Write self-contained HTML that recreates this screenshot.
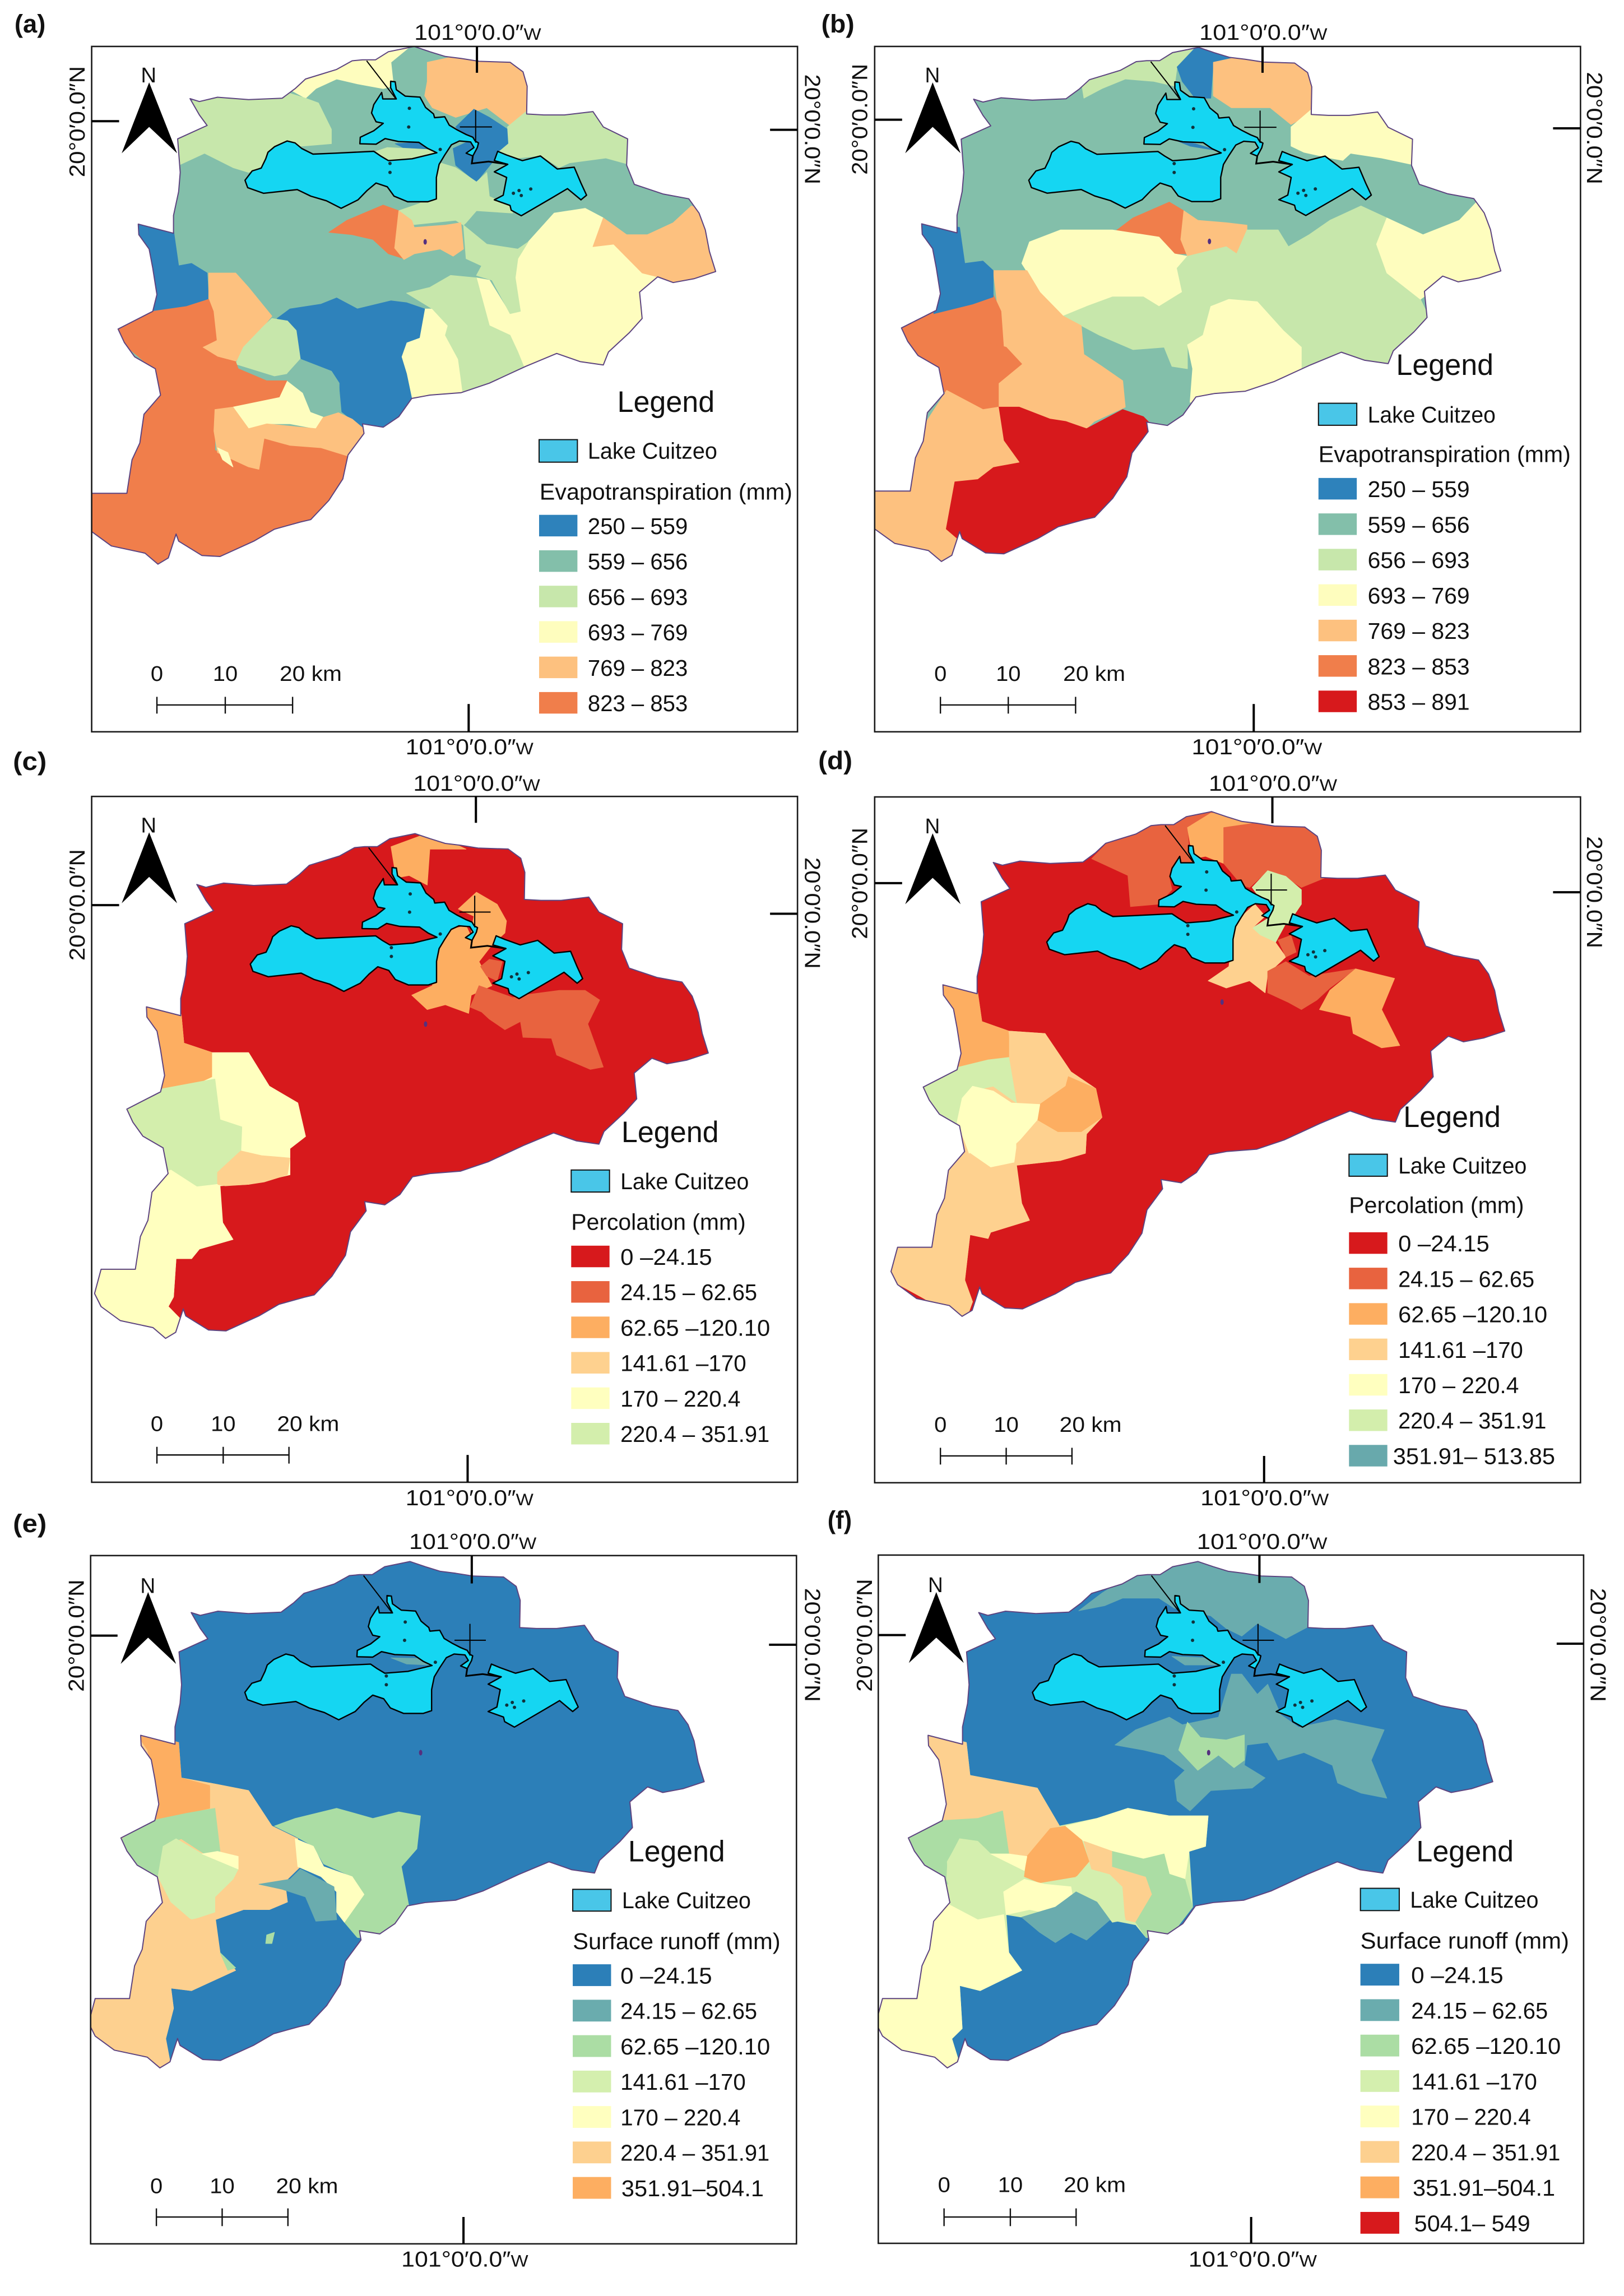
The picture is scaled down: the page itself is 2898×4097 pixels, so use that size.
<!DOCTYPE html>
<html lang="en">
<head>
<meta charset="utf-8">
<title>Lake Cuitzeo basin water balance maps</title>
<style>
html,body{margin:0;padding:0;background:#fff;width:2898px;height:4097px;overflow:hidden}
svg{display:block}
text{font-family:"Liberation Sans",sans-serif;fill:#111}
</style>
</head>
<body>
<svg id="figure" xmlns="http://www.w3.org/2000/svg" width="2898" height="4097" viewBox="0 0 2898 4097"></svg>
<script>
/* ---------- legend data ---------- */
const evapLabels = ["250 – 559","559 – 656","656 – 693","693 – 769","769 – 823","823 – 853","853 – 891"];
const evapBreaks = [559,656,693,769,823,853,891];
const evapColors = ["#2e82bb","#83bfaa","#c7e7ab","#fefdbe","#fdc17f","#f07e4b","#d7191c"];
const percLabels = ["0 –24.15","24.15 – 62.65","62.65 –120.10","141.61 –170","170 – 220.4","220.4 – 351.91","351.91– 513.85"];
const percBreaks = [24.15,62.65,120.1,170,220.4,351.91,513.85];
const percColors = ["#d7191c","#e8633f","#fdae61","#fed18f","#ffffbf","#d3eeac","#68a9ac"];
const runoffLabels = ["0 –24.15","24.15 – 62.65","62.65 –120.10","141.61 –170","170 – 220.4","220.4 – 351.91","351.91–504.1","504.1– 549"];
const runoffBreaks = [24.15,62.65,120.1,170,220.4,351.91,504.1,549];
const runoffColors = ["#2c7fb8","#6aacae","#abdda4","#d4efae","#ffffbf","#fdd08f","#fdae61","#d7191c"];

/* ---------- per-panel class values (mm, one per region, drawn in order) ---------- */
const panelABase = 600;
const panelAValues = [730,680,800,400,680,680,680,840,800,730,800,680,730,400,400,800,680,840,730,800,600,730,680,400];
const panelBBase = 600;
const panelBValues = [680,400,800,730,840,800,730,680,730,730,800,840,400,870,800,400];
const panelCBase = 12;
const panelCValues = [195,90,90,90,40,40,90,195,290,155,195];
const panelDBase = 12;
const panelDValues = [155,40,40,90,40,290,290,155,40,40,90,90,155,90,290,195,155,155];
const panelEBase = 12;
const panelEValues = [290,430,290,90,155,195,90,195,40,290,90,90,40];
const panelFBase = 12;
const panelFValues = [155,40,40,90,290,430,195,290,90,90,155,195,195,155,40,195,40];

/* ---------- map geometry (basin, lake, dissolved regions) ---------- */
const basinOutline = "367,206 385,212 420,203 480,208 545,205 570,185 590,165 620,155 650,145 680,127 700,125 725,125 750,108 800,97 830,108 860,118 890,122 925,128 985,130 1010,150 1018,180 1017,238 1050,240 1090,240 1145,233 1165,265 1212,290 1210,345 1225,385 1280,405 1330,415 1350,445 1362,480 1370,525 1382,567 1340,582 1300,590 1270,578 1235,610 1240,665 1215,695 1175,735 1165,762 1120,755 1075,738 1015,765 985,780 945,800 890,820 830,825 795,832 770,870 740,892 700,885 703,905 672,950 662,1000 635,1045 600,1085 580,1090 530,1105 490,1130 425,1162 390,1160 345,1130 340,1115 325,1165 305,1178 280,1155 215,1140 177,1110 164,1082 177,1030 245,1030 255,960 270,925 278,865 310,825 300,770 260,745 240,715 228,687 295,650 303,615 295,560 288,520 268,490 267,468 335,487 335,450 345,400 348,360 343,290 400,262 385,240";

/* lake traced at high magnification (trace units converted by traceToMap) */
const lakeWestNorthTrace = "18,575 50,525 90,510 110,460 120,425 150,395 205,365 240,375 270,405 320,435 420,430 590,420 620,445 655,470 760,460 870,428 830,405 790,372 700,368 640,352 600,382 528,380 530,345 590,310 632,270 600,262 580,215 590,170 625,105 630,140 690,140 665,80 665,45 685,48 690,90 730,125 795,130 820,185 855,220 860,240 905,235 925,280 960,305 1000,330 1030,345 1040,365 1055,375 1050,400 1030,445 1000,430 1035,400 1020,370 970,365 935,385 905,440 880,490 868,560 868,675 830,690 740,690 680,660 650,610 600,590 560,630 520,680 445,725 380,685 310,660 250,625 100,645 30,615";
const lakeEastTrace = "1140,420 1180,440 1250,470 1330,445 1405,515 1480,505 1510,590 1535,655 1510,680 1450,620 1380,670 1245,765 1200,735 1195,710 1125,680 1165,655 1180,560 1125,530 1185,490 1125,470";
const lakeChannelTrace = "1030,445 1025,485 1100,475 1185,490";
const lakeIsletTrace = ["1210,645","1235,630","1245,657","1287,622","662,533","662,485","748,190","745,290","885,410"];
function traceToMap(s) {
  return s.split(' ').map(function (q) {
    const c = q.split(',');
    return (465.3 + (+c[0]) * 0.4348).toFixed(1) + ',' + (152.1 + (+c[1]) * 0.39).toFixed(1);
  }).join(' ');
}
const lakeWestNorth = traceToMap(lakeWestNorthTrace);
const lakeEast = traceToMap(lakeEastTrace);
const lakeChannel = traceToMap(lakeChannelTrace);
const lakeIslets = lakeIsletTrace.map(traceToMap);

const panelAShapes = [
"590,205 610,185 650,165 690,175 740,185 760,180 755,130 800,90 730,100 700,115 640,140 590,160 565,190",
"335,350 395,320 450,350 480,360 510,345 530,310 640,300 640,270 615,215 590,205 560,195 400,180 335,250",
"825,130 890,115 985,120 1025,150 1025,238 985,262 940,225 880,245 835,225 820,200 825,170",
"880,265 915,228 945,245 980,270 982,300 950,340 920,380 880,345 875,310 905,295",
"980,265 1017,232 1145,225 1220,290 1220,345 1170,330 1100,340 1080,350 1045,325 1000,330 960,320 982,300",
"726,316 748,308 826,312 844,318 796,332 750,335",
"838,400 850,340 880,350 920,380 940,360 945,410 985,430 990,445 920,440 900,465 895,470 880,460 790,470 770,440 810,425",
"635,485 670,460 740,428 770,440 765,520 780,540 750,530 720,500 680,490",
"770,440 795,460 800,475 860,470 890,465 895,520 875,535 850,520 800,530 780,542 762,518",
"1000,540 1020,505 1070,445 1130,435 1165,455 1145,515 1185,510 1240,570 1270,578 1235,620 1240,670 1215,700 1175,745 1165,775 1075,750 1015,775 1000,735 985,700 945,680 935,640 920,580 945,585 985,655 1005,650 995,580",
"1145,515 1165,455 1210,490 1250,490 1300,465 1335,430 1360,440 1375,480 1395,567 1300,600 1270,578 1240,570 1185,510",
"895,470 940,510 1000,520 1020,505 1000,540 995,580 1005,650 985,655 950,585 920,575 930,555 900,540",
"820,645 835,645 865,680 860,700 885,750 895,830 795,845 785,780 775,745 785,715 810,705",
"535,665 560,645 620,635 650,622 690,645 755,628 785,632 820,645 810,705 785,715 775,745 785,780 795,832 770,880 740,900 695,890 660,860 655,800 640,775 580,750 570,690",
"255,460 335,480 345,555 370,550 400,570 403,625 360,640 285,660 295,610 285,560 275,520",
"403,570 455,570 480,600 525,660 510,680 455,755 420,745 390,725 418,710 412,650 403,625",
"525,665 555,670 572,690 580,750 555,780 530,785 455,760 470,725 510,680",
"403,625 360,640 295,650 220,687 235,715 295,770 305,825 270,865 262,925 245,960 237,1020 130,1020 130,1110 205,1150 300,1190 330,1175 345,1140 390,1170 425,1172 490,1140 530,1115 580,1100 610,1095 645,1055 672,1000 682,950 670,945 620,935 560,930 510,915 500,980 480,975 415,940 415,855 450,850 540,830 555,795 515,795 460,770 455,755 420,745 390,725 418,710 412,650",
"450,850 540,830 555,795 585,820 600,860 625,870 610,895 560,885 515,885 480,895",
"415,855 450,850 480,895 515,885 610,895 625,870 650,860 680,875 713,905 680,955 620,935 560,930 510,915 500,980 480,975 420,945 413,900",
"555,780 580,750 640,775 655,800 655,860 625,870 600,860 585,820 555,795",
"420,935 440,945 450,975 430,960",
"785,612 830,600 870,575 920,580 935,640 945,680 985,700 1000,735 1015,775 985,790 945,810 895,830 885,750 860,700 865,680 835,645",
"763,300 809,297 826,311 778,308"
];
const panelBShapes = [
"525,205 560,185 605,165 660,170 700,180 705,140 750,90 700,90 660,115 630,115 570,145 520,170",
"705,140 740,100 800,95 840,125 775,130 770,205 740,205 715,170",
"775,130 840,115 930,115 975,155 975,230 925,260 885,225 840,225 810,225 775,200",
"925,265 965,228 1015,232 1090,224 1170,285 1165,345 1100,330 1040,320 1025,335 1000,330 950,318 925,305",
"583,485 620,455 690,422 718,440 712,500 725,530 700,530 670,495",
"718,440 745,460 800,465 840,470 840,515 820,530 800,515 750,530 725,535 712,500",
"405,550 420,505 480,480 580,480 670,495 700,530 725,535 705,560 715,610 670,640 640,620 580,620 530,640 485,660 440,610",
"485,660 530,640 580,620 640,620 670,640 715,610 705,560 725,535 800,515 820,530 840,480 900,480 920,515 960,490 1000,460 1060,430 1110,455 1090,510 1110,570 1175,625 1195,670 1125,770 1075,765 1025,745 945,780 945,725 910,690 860,630 805,625 770,640 755,700 725,720 725,770 695,765 680,725 620,730 555,700 520,680",
"1090,510 1110,455 1180,490 1250,460 1285,420 1310,440 1320,510 1340,565 1280,600 1220,590 1175,625 1110,570",
"725,720 755,700 770,640 805,625 860,630 910,690 945,725 945,780 905,800 840,825 730,840 735,770",
"350,565 415,565 440,610 485,660 520,680 525,740 560,765 600,795 605,850 545,880 530,895 490,880 460,875 400,850 360,850 360,790 405,760 375,725 340,715 365,700",
"350,615 365,650 370,725 340,715 375,725 405,760 360,800 360,850 330,855 250,815 235,760 195,740 165,685 245,630",
"200,455 285,475 295,550 330,545 350,565 350,620 310,635 235,655 240,600 225,530",
"360,850 400,850 460,875 490,880 530,895 600,855 640,870 672,905 640,950 620,1040 565,1115 525,1125 430,1140 370,1190 320,1180 270,1150 258,1105 275,1005 320,1000 350,975 400,965 370,920",
"260,815 330,855 360,850 370,920 400,965 350,975 320,1000 275,1005 258,1105 285,1130 265,1185 90,1110 90,1020 185,1020 200,950 215,890",
"700,292 740,300 785,315 730,305"
];
const panelCShapes = [
"270,520 350,550 355,610 410,630 480,630 520,700 575,735 590,805 560,830 560,885 480,905 425,908 430,985 450,1020 385,1040 370,1060 340,1060 335,1140 325,1160 352,1190 335,1240 160,1140 225,750",
"755,200 830,170 900,205 830,205 825,280 790,260 765,265",
"885,330 920,295 960,320 978,355 975,380 950,405 915,400 910,375 915,345",
"795,510 835,490 840,420 860,375 900,365 915,400 950,405 925,440 950,490 910,510 905,548 860,530 825,540",
"908,535 925,490 990,515 1010,510 1080,500 1130,500 1158,520 1135,570 1165,660 1140,665 1075,635 1065,600 1010,598 1005,565 975,582 945,560 930,545",
"928,450 945,435 970,440 960,480 940,470",
"270,520 350,550 355,610 410,630 410,680 380,695 300,720 310,640 295,580 270,555",
"410,630 480,630 520,700 575,735 590,805 560,830 505,840 470,840 465,785 420,770 410,680",
"300,708 415,685 425,770 467,785 465,840 425,880 420,905 380,910 320,875 305,830 235,760 235,745",
"420,880 465,835 505,845 560,850 555,885 510,900 480,905 435,908 420,905",
"330,875 380,910 420,905 430,985 450,1020 385,1040 370,1060 340,1060 335,1140 325,1160 352,1190 335,1240 290,1225 190,1160 173,1130 185,1075 250,1065 260,1010 275,960 280,900"
];
const panelDShapes = [
"240,480 320,505 328,565 380,585 450,590 500,670 548,705 560,765 530,800 528,840 480,855 395,865 405,945 420,980 345,1005 340,1018 305,1010 295,1105 310,1150 295,1195 135,1090 195,700",
"540,225 590,170 660,140 700,145 725,160 728,205 735,235 690,265 695,290 668,320 615,325 610,260",
"690,140 765,115 790,125 730,155 725,160",
"725,160 770,130 840,125 870,155 795,160 795,235 760,220 735,225",
"795,160 860,150 950,145 990,180 990,265 945,285 910,260 880,250 845,285 830,280 795,235",
"850,285 880,250 915,262 945,290 945,320 920,360 885,360 880,345 885,320 860,300",
"850,370 880,350 915,360 895,400 865,385",
"765,480 805,450 815,370 835,340 855,320 875,345 850,370 865,385 895,400 915,430 880,465 875,505 845,480 800,495",
"880,460 915,440 960,470 1050,455 1000,495 975,520 945,540 920,525 880,505",
"900,395 925,385 935,420 915,430",
"980,540 1000,500 1050,455 1125,475 1100,540 1135,615 1100,620 1045,590 1040,555",
"240,480 320,505 328,565 380,585 380,640 340,645 265,675 280,600 260,520",
"380,585 450,590 500,670 490,700 440,738 400,735 390,680",
"495,680 548,705 560,765 520,795 475,795 435,770 440,738 490,700",
"265,665 340,645 380,640 395,735 350,700 310,710 290,780 235,770 205,720 203,700",
"310,700 350,710 385,735 440,738 435,770 395,820 390,860 345,870 305,845 295,815 280,775 290,725",
"395,820 430,785 475,800 530,800 528,840 480,855 395,865",
"305,840 345,870 390,860 405,945 420,980 345,1005 340,1018 305,1010 295,1105 310,1150 295,1190 160,1110 145,1085 155,1030 220,1015 230,960 250,870"
];
const panelEShapes = [
"255,450 345,475 350,545 405,555 480,570 525,640 575,665 580,720 550,750 555,790 520,805 470,805 415,825 425,890 455,925 370,965 330,960 335,1000 320,1060 330,1115 300,1130 160,1050 225,670",
"262,455 345,475 350,545 405,560 405,605 360,615 290,640 300,570 285,490",
"405,555 480,570 525,640 575,665 580,720 550,750 555,790 520,805 470,805 415,825 415,775 450,745 460,700 425,690 415,610",
"290,630 360,615 415,605 425,690 395,695 350,665 315,680 305,740 250,720 228,670",
"315,680 340,665 390,695 460,725 450,745 415,780 415,810 370,825 330,790 305,740",
"390,695 420,690 460,700 460,725",
"530,640 570,625 650,605 720,625 770,612 812,620 805,685 775,720 790,800 735,865 690,860 665,830 700,775 680,740 625,715 605,680 570,660",
"570,665 605,680 625,720 680,740 703,775 665,830 650,810 650,770 620,740 575,720",
"500,755 560,745 580,725 645,760 650,825 610,828 590,780 545,765",
"300,790 370,825 415,815 425,890 455,925 370,965 330,960 335,1000 320,1060 330,1115 300,1130 165,1050 175,975 250,960 270,880",
"515,855 530,850 525,872 513,872",
"425,890 455,920 440,925",
"755,308 810,309 830,322 785,320"
];
const panelFShapes = [
"205,450 298,475 305,540 435,565 478,640 550,625 610,605 690,620 765,620 760,680 728,690 735,800 690,860 645,860 625,835 575,825 530,865 500,850 470,870 440,850 405,820 375,815 380,890 405,925 325,965 285,955 290,1040 270,1060 285,1110 258,1130 115,1050 175,665",
"515,215 560,180 630,135 670,135 740,108 830,115 955,140 970,180 970,240 915,270 860,240 830,265 800,250 770,225 700,210 670,190 600,190 565,205",
"585,480 625,450 690,425 715,440 785,425 810,340 830,340 860,380 880,360 905,420 940,445 1010,430 1105,450 1080,510 1110,585 1060,575 1015,555 1005,520 950,495 900,510 880,475 840,480 835,520 875,545 850,565 770,570 730,610 705,590 700,550 720,530 680,500 640,490",
"708,490 725,435 750,465 800,470 835,460 835,510 815,525 785,500 745,530",
"215,455 298,475 305,540 435,565 478,640 460,645 415,700 380,695 368,610 320,625 240,640 255,590 240,510",
"460,645 490,640 520,665 535,710 510,740 440,752 410,740 415,700",
"490,640 550,625 610,605 690,620 765,620 760,680 728,690 720,745 690,735 680,695 640,705 580,690 525,670",
"525,670 580,690 580,720 645,740 657,775 625,830 605,825 600,760 575,735 540,725",
"580,690 640,705 680,695 690,735 720,745 735,800 690,860 645,860 625,830 657,775 645,740 580,720",
"240,630 320,625 368,610 380,695 345,695 320,670 285,665 260,710 262,755 195,710 180,665",
"262,710 285,665 320,670 345,695 410,742 375,770 370,810 320,825 280,795 260,745",
"345,695 380,695 415,700 410,728",
"370,770 410,745 450,755 500,760 505,790 470,815 420,805 375,815",
"510,740 555,730 590,760 605,825 580,830 550,790 520,770 505,770",
"405,820 470,800 510,770 550,790 575,825 530,865 500,850 470,870 440,850",
"255,790 320,825 370,815 380,890 405,925 325,965 285,955 290,1040 270,1060 285,1110 258,1130 120,1050 128,975 205,960 215,900 225,820",
"695,305 760,308 785,322 720,322"
];

/* ---------- panel layout ---------- */
const SX = 1449 / 1568;
const panels = [
 {id:'a',tag:'(a)',tagX:[28,88],tagY:68,zx:0,zy:0,ky:1340/1568,sx:1,k:0,sy:1,m:0,frame:[177,1540,97,1528],
  top:[921,800,1045,83],bottom:[905,783,1030,1470,1575],left:[253,230,150,138,370],right:[271,1487,1568,155,385],
  arrow:[288,172,235,342,265,320],north:[272,302,172],bar:[303,435,565,1472,1455,1490,1422,540,660],
  legend:[1192,1380,860],lakeKey:[1041,1115,918,965,1135,1385,958],field:['Evapotranspiration (mm)',1042,1530,1043],rows:[1041,1115,1075,45,74,40],
  labels:evapLabels,colors:evapColors,breaks:evapBreaks,count:6,starts:[1135,1135,1135,1135,1135,1135],ends:[1328,1328,1328,1328,1328,1328],
  base:panelABase,values:panelAValues,shapes:panelAShapes},
 {id:'b',tag:'(b)',tagX:[18,82],tagY:68,zx:1449,zy:0,ky:1340/1568,sx:1.003,k:-56,sy:.993,m:2.6,frame:[121,1484,97,1528],
  top:[870,748,995,83],bottom:[853,733,985,1470,1575],left:[250,174,93,133,365],right:[268,1431,1510,150,385],
  arrow:[233,172,180,287,265,320],north:[218,247,172],bar:[248,379,509,1472,1455,1490,1422,485,605],
  legend:[1128,1316,783],lakeKey:[978,1052,842,888,1073,1320,882],field:['Evapotranspiration (mm)',978,1465,965],rows:[978,1052,998,45,74,40],
  labels:evapLabels,colors:evapColors,breaks:evapBreaks,count:7,starts:[1073,1073,1073,1073,1073,1073,1073],ends:[1270,1270,1270,1270,1270,1270,1270],
  base:panelBBase,values:panelBValues,shapes:panelBShapes},
 {id:'c',tag:'(c)',tagX:[25,90],tagY:40,zx:0,zy:1340,ky:1340/1568,sx:.973,k:23,sy:.975,m:78,frame:[177,1540,95,1527],
  top:[919,798,1043,83],bottom:[903,783,1030,1470,1575],left:[322,230,150,205,438],right:[340,1487,1568,222,455],
  arrow:[288,170,235,342,263,318],north:[272,302,170],bar:[303,431,558,1470,1453,1488,1420,535,655],
  legend:[1200,1388,817],lakeKey:[1103,1177,875,921,1198,1446,915],field:['Percolation (mm)',1103,1440,1000],rows:[1103,1177,1033,45,74,40],
  labels:percLabels,colors:percColors,breaks:percBreaks,count:6,starts:[1198,1198,1198,1198,1198,1198],ends:[1375,1462,1487,1441,1430,1486],
  base:panelCBase,values:panelCValues,shapes:panelCShapes},
 {id:'d',tag:'(d)',tagX:[12,78],tagY:38,zx:1449,zy:1340,ky:1340/1568,sx:.973,k:-7,sy:.975,m:32,frame:[121,1484,96,1528],
  top:[889,766,1014,83],bottom:[873,750,998,1472,1575],left:[276,174,93,160,393],right:[295,1431,1510,178,412],
  arrow:[233,172,180,287,265,320],north:[218,247,172],bar:[248,375,502,1472,1455,1490,1422,478,598],
  legend:[1142,1330,785],lakeKey:[1037,1111,842,888,1132,1380,882],field:['Percolation (mm)',1037,1375,965],rows:[1037,1111,1005,45,74,40],
  labels:percLabels,colors:percColors,breaks:percBreaks,count:7,starts:[1132,1132,1132,1132,1132,1132,1122],ends:[1308,1395,1420,1373,1365,1418,1435],
  base:panelDBase,values:panelDValues,shapes:panelDShapes},
 {id:'e',tag:'(e)',tagX:[25,90],tagY:60,zx:0,zy:2680,ky:1417/1568,sx:.976,k:11,sy:.925,m:28,frame:[175,1538,106,1465],
  top:[911,790,1036,93],bottom:[895,775,1020,1412,1510],left:[264,227,148,153,375],right:[282,1485,1568,170,395],
  arrow:[286,178,233,340,268,320],north:[271,300,180],bar:[302,429,556,1412,1395,1430,1365,533,653],
  legend:[1213,1400,710],lakeKey:[1106,1180,765,808,1201,1450,802],field:['Surface runoff (mm)',1106,1507,883],rows:[1106,1180,913,43,70,38],
  labels:runoffLabels,colors:runoffColors,breaks:runoffBreaks,count:7,starts:[1198,1198,1198,1198,1198,1198,1200],ends:[1375,1462,1487,1440,1430,1486,1475],
  base:panelEBase,values:panelEValues,shapes:panelEShapes},
 {id:'f',tag:'(f)',tagX:[30,77],tagY:53,zx:1449,zy:2680,ky:1417/1568,sx:.978,k:-37,sy:.925,m:28,frame:[128,1490,105,1464],
  top:[864,743,995,93],bottom:[848,727,975,1412,1510],left:[263,181,102,152,375],right:[280,1438,1517,170,395],
  arrow:[240,178,187,293,268,318],north:[224,253,178],bar:[255,383,510,1412,1395,1430,1363,486,606],
  legend:[1167,1355,710],lakeKey:[1059,1134,763,807,1155,1403,801],field:['Surface runoff (mm)',1059,1462,882],rows:[1059,1134,912,43,70,38],
  labels:runoffLabels,colors:runoffColors,breaks:runoffBreaks,count:8,starts:[1157,1157,1157,1157,1157,1157,1160,1163],ends:[1335,1421,1446,1400,1388,1445,1435,1387],
  base:panelFBase,values:panelFValues,shapes:panelFShapes}
];

/* ---------- helpers ---------- */
const NS = 'http://www.w3.org/2000/svg';
const root = document.getElementById('figure');
function mk(tag, parent, attrs) {
  const el = document.createElementNS(NS, tag);
  for (const key in attrs) el.setAttribute(key, attrs[key]);
  parent.appendChild(el);
  return el;
}
function classIndex(value, breaks) {
  for (let i = 0; i < breaks.length; i++) if (value <= breaks[i]) return i;
  return breaks.length - 1;
}

panels.forEach(function (p) {
  const px = function (d) { return p.zx + d * SX; };
  const py = function (d) { return p.zy + d * p.ky; };
  const lenX = function (d) { return d * SX; };
  const lenY = function (d) { return d * p.ky; };
  /* own-panel points */
  const ownPts = function (s) {
    return s.split(' ').map(function (q) { const c = q.split(','); return px(+c[0]).toFixed(1) + ',' + py(+c[1]).toFixed(1); }).join(' ');
  };
  /* shared map-space points */
  const ax = function (x) { return px(p.sx * x + p.k); };
  const ay = function (y) { return py(p.sy * y + p.m); };
  const sharedPts = function (s) {
    return s.split(' ').map(function (q) { const c = q.split(','); return ax(+c[0]).toFixed(1) + ',' + ay(+c[1]).toFixed(1); }).join(' ');
  };
  const label = function (parent, str, x1, x2, base, size, extra) {
    const t = mk('text', parent, Object.assign({x: px(x1).toFixed(1), y: py(base).toFixed(1), 'font-size': size, textLength: lenX(x2 - x1).toFixed(1), lengthAdjust: 'spacingAndGlyphs'}, extra || {}));
    t.textContent = str;
    return t;
  };

  const g = mk('g', root, {});
  
  

  const tag = label(g, p.tag, p.tagX[0], p.tagX[1], p.tagY, 45, {'font-weight': 'bold'});
  
  

  const fx1 = px(p.frame[0]), fx2 = px(p.frame[1]), fy1 = py(p.frame[2]), fy2 = py(p.frame[3]);
  const defs = mk('defs', g, {});
  const cf = mk('clipPath', defs, {id: 'frame-clip-' + p.id});
  mk('rect', cf, {x: fx1, y: fy1, width: fx2 - fx1, height: fy2 - fy1});
  const cb = mk('clipPath', defs, {id: 'basin-clip-' + p.id});
  mk('polygon', cb, {points: sharedPts(basinOutline)});

  const frame = mk('rect', g, {x: fx1, y: fy1, width: fx2 - fx1, height: fy2 - fy1, fill: '#fff'});
  
  

  const inFrame = mk('g', g, {'clip-path': 'url(#frame-clip-' + p.id + ')'});
  const inBasin = mk('g', inFrame, {'clip-path': 'url(#basin-clip-' + p.id + ')'});

  const basin = mk('polygon', inBasin, {points: sharedPts(basinOutline), fill: p.colors[classIndex(p.base, p.breaks)]});
  
  

  p.shapes.forEach(function (shape, i) {
    const color = p.colors[classIndex(p.values[i], p.breaks)];
    const region = mk('polygon', inBasin, {points: ownPts(shape), fill: color, stroke: color, 'stroke-width': 1, 'stroke-linejoin': 'round'});
    
    
  });

  const outline = mk('polygon', inFrame, {points: sharedPts(basinOutline), fill: 'none', stroke: '#5d4480', 'stroke-width': 2, 'stroke-linejoin': 'round'});
  
  

  /* lake */
  const lake1 = mk('polygon', g, {points: sharedPts(lakeWestNorth), fill: '#15d6f2', stroke: '#000', 'stroke-width': 2.4, 'stroke-linejoin': 'round'});
  
  
  const lake2 = mk('polygon', g, {points: sharedPts(lakeEast), fill: '#15d6f2', stroke: '#000', 'stroke-width': 2.4, 'stroke-linejoin': 'round'});
  
  
  const channel = mk('polyline', g, {points: sharedPts(lakeChannel), fill: 'none', stroke: '#000', 'stroke-width': 3});
  
  
  lakeIslets.forEach(function (q) {
    const c = q.split(',');
    const dot = mk('circle', g, {cx: ax(+c[0]), cy: ay(+c[1]), r: 3, fill: '#10323c'});
    
    
  });
  const spot = mk('ellipse', g, {cx: ax(821), cy: ay(505), rx: 3, ry: 5, fill: '#55307f'});
  
  

  const leader = mk('line', g, {x1: ax(708), y1: ay(127), x2: ax(765), y2: ay(207), stroke: '#000', 'stroke-width': 2});
  
  
  const crossH = mk('line', g, {x1: ax(888), y1: ay(265), x2: ax(950), y2: ay(265), stroke: '#000', 'stroke-width': 2});
  
  
  const crossV = mk('line', g, {x1: ax(918.5), y1: ay(230), x2: ax(918.5), y2: ay(298), stroke: '#000', 'stroke-width': 2});
  
  

  /* frame border */
  const border = mk('rect', g, {x: fx1, y: fy1, width: fx2 - fx1, height: fy2 - fy1, fill: 'none', stroke: '#1a1a1a', 'stroke-width': 2.6});
  
  

  /* graticule ticks and labels */
  const tick = function (name, x1, y1, x2, y2) {
    const t = mk('line', g, {x1: x1, y1: y1, x2: x2, y2: y2, stroke: '#000', 'stroke-width': 4});
    
    
  };
  tick('top-tick', px(p.top[0]), fy1, px(p.top[0]), py(p.frame[2] + 55));
  tick('bottom-tick', px(p.bottom[0]), py(p.bottom[3]), px(p.bottom[0]), fy2);
  tick('left-tick', fx1, py(p.left[0]), px(p.left[1]), py(p.left[0]));
  tick('right-tick', px(p.right[1]), py(p.right[0]), fx2, py(p.right[0]));

  const topLab = label(g, '101°0′0.0″', p.top[1], p.top[2], p.top[3], 39);
  
  
  mk('tspan', topLab, {'font-size': 30}).textContent = 'W';
  const botLab = label(g, '101°0′0.0″', p.bottom[1], p.bottom[2], p.bottom[4], 39);
  
  
  mk('tspan', botLab, {'font-size': 30}).textContent = 'W';

  const lx = px(p.left[2]), ly = py((p.left[3] + p.left[4]) / 2);
  const leftLab = mk('text', g, {x: 0, y: 0, 'font-size': 39, 'text-anchor': 'middle', 'dominant-baseline': 'central', textLength: lenY(p.left[4] - p.left[3]).toFixed(1), lengthAdjust: 'spacingAndGlyphs', transform: 'translate(' + lx + ' ' + ly + ') rotate(-90)'});
  leftLab.textContent = '20°0′0.0″N';
  
  
  const rx = px(p.right[2]), ry = py((p.right[3] + p.right[4]) / 2);
  const rightLab = mk('text', g, {x: 0, y: 0, 'font-size': 39, 'text-anchor': 'middle', 'dominant-baseline': 'central', textLength: lenY(p.right[4] - p.right[3]).toFixed(1), lengthAdjust: 'spacingAndGlyphs', transform: 'translate(' + rx + ' ' + ry + ') rotate(90)'});
  rightLab.textContent = '20°0′0.0″N';
  
  

  /* north arrow */
  const A = p.arrow;
  const arrow = mk('polygon', g, {points: px(A[0]) + ',' + py(A[1]) + ' ' + px(A[3]) + ',' + py(A[5]) + ' ' + px(A[0]) + ',' + py(A[4]) + ' ' + px(A[2]) + ',' + py(A[5]), fill: '#000'});
  
  
  const nLab = label(g, 'N', p.north[0], p.north[1], p.north[2], 38);
  
  

  /* scale bar */
  const B = p.bar;
  const bar = mk('line', g, {x1: px(B[0]), y1: py(B[3]), x2: px(B[2]), y2: py(B[3]), stroke: '#111', 'stroke-width': 2.4});
  
  
  [B[0], B[1], B[2]].forEach(function (x) {
    const st = mk('line', g, {x1: px(x), y1: py(B[4]), x2: px(x), y2: py(B[5]), stroke: '#111', 'stroke-width': 2.4});
    
    
  });
  const s0 = label(g, '0', B[0] - 12, B[0] + 12, B[6], 38);
  
  
  const s10 = label(g, '10', B[1] - 24, B[1] + 24, B[6], 38);
  
  
  const s20 = label(g, '20 km', B[7], B[8], B[6], 38);
  
  

  /* legend */
  const lg = mk('g', g, {});
  
  
  const lt = label(lg, 'Legend', p.legend[0], p.legend[1], p.legend[2], 53);
  
  
  const K = p.lakeKey;
  const ks = mk('rect', lg, {x: px(K[0]), y: py(K[2]), width: lenX(K[1] - K[0]), height: lenY(K[3] - K[2]), fill: '#49c6e8', stroke: '#111', 'stroke-width': 2});
  
  
  const kl = label(lg, 'Lake Cuitzeo', K[4], K[5], K[6], 41);
  
  
  const ft = label(lg, p.field[0], p.field[1], p.field[2], p.field[3], 41);
  
  
  const R = p.rows;
  for (let i = 0; i < p.count; i++) {
    const rowY = R[2] + i * R[4];
    const sw = mk('rect', lg, {x: px(R[0]), y: py(rowY), width: lenX(R[1] - R[0]), height: lenY(R[3]), fill: p.colors[i]});
    
    
    const tx = label(lg, p.labels[i], p.starts[i], p.ends[i], rowY + R[5], 41);
    
    
  }
});
</script>
</body>
</html>
